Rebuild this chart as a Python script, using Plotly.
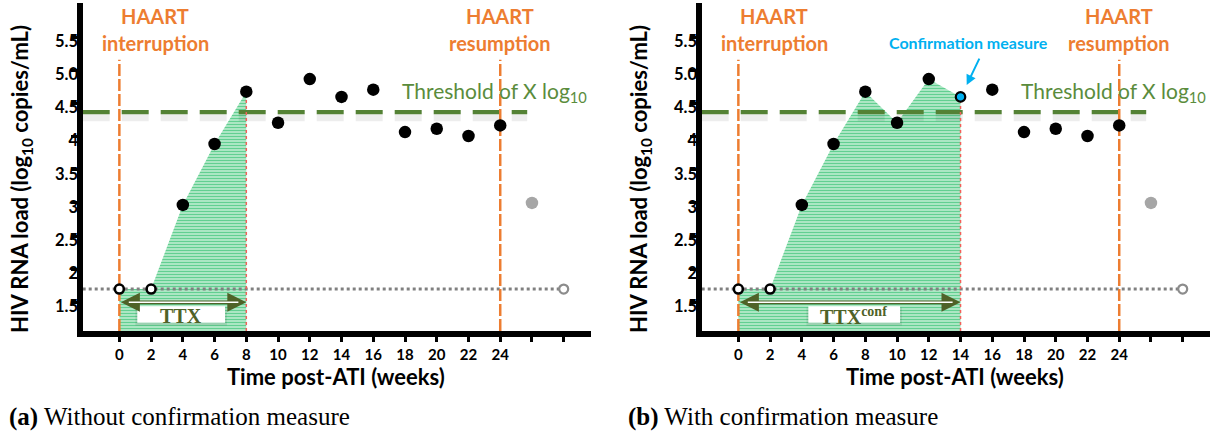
import plotly.graph_objects as go

W, H = 1227, 434

# ---------------- data ----------------
weeks = [0, 2, 4, 6, 8, 10, 12, 14, 16, 18, 20, 22, 24]
viral_load = [1.7, 1.7, 2.97, 3.89, 4.68, 4.21, 4.87, 4.60, 4.71, 4.07, 4.12, 4.01, 4.17]
below_lod = [True, True, False, False, False, False, False, False, False, False, False, False, False]
extra_weeks = [26, 28]
extra_values = [3.0, 1.7]

LOD = 1.7
THRESHOLD = 4.37
HAART_STOP = 0
HAART_RESUME = 24
ttx_end = [8, 14]
confirm_week = [None, 14]

x_tickvals = [0, 2, 4, 6, 8, 10, 12, 14, 16, 18, 20, 22, 24, 26, 28]
x_ticktext = ["0", "2", "4", "6", "8", "10", "12", "14", "16", "18", "20", "22", "24", "", ""]
y_tickvals = [1.5, 2, 2.5, 3, 3.5, 4, 4.5, 5.0, 5.5]
y_ticktext = ["1.5", "2", "2.5", "3", "3.5", "4", "4.5", "5.0", "5.5"]
captions = ["<b>(a)</b> Without confirmation measure", "<b>(b)</b> With confirmation measure"]
ttx_labels = ["TTX", "TTX<sup>conf</sup>"]
ttx_label_x = [3.87, 7.25]
ttx_box_x = [(1.13, 6.66), (4.41, 10.19)]

# ---------------- styles ----------------
ORANGE = "#ED7D31"
TGREEN = "#548235"
OLIVE = "#4F6228"
BLUE = "#00B0F0"
FONT = "Lato"
XR = [-2.31, 29.72]
YR = [1.067, 6.018]
Y_LABEL_SHIFT = 0.06
THRESH_END = 25.7
HAART_TOP = 5.16

panel_off = [0, 619]
ydom = [1 - 331 / H, 1 - 3 / H]

fig = go.Figure()

for i in range(2):
    xa = "x" if i == 0 else "x2"
    ya = "y" if i == 0 else "y2"
    yl = "y3" if i == 0 else "y4"
    end = ttx_end[i]
    k = weeks.index(end)

    # invisible trace so the tick-label axis is drawn
    fig.add_trace(go.Scatter(x=[weeks[0]], y=[viral_load[0]], xaxis=xa, yaxis=yl, mode="markers",
                             marker=dict(opacity=0), hoverinfo="skip", showlegend=False))

    # hatched area up to TTX
    fig.add_trace(go.Scatter(
        x=weeks[:k + 1], y=viral_load[:k + 1], xaxis=xa, yaxis=ya,
        mode="none", fill="tozeroy", fillcolor="#b5e9c8",
        fillpattern=dict(shape="-", fgcolor="#00B050", bgcolor="#c4eed3", size=3, solidity=0.5),
        hoverinfo="skip", showlegend=False))

    # threshold shadow + line
    fig.add_trace(go.Scatter(
        x=[XR[0], THRESH_END], y=[THRESHOLD - 0.085, THRESHOLD - 0.085], xaxis=xa, yaxis=ya,
        mode="lines", line=dict(color="rgba(0,0,0,0.07)", width=7, dash="27px,12px"),
        hoverinfo="skip", showlegend=False))
    fig.add_trace(go.Scatter(
        x=[XR[0], THRESH_END], y=[THRESHOLD, THRESHOLD], xaxis=xa, yaxis=ya,
        mode="lines", line=dict(color=TGREEN, width=4.3, dash="27px,12px"),
        hoverinfo="skip", showlegend=False))

    # detection limit dotted line
    fig.add_trace(go.Scatter(
        x=[XR[0], extra_weeks[1]], y=[LOD, LOD], xaxis=xa, yaxis=ya,
        mode="lines", line=dict(color="#808080", width=3, dash="3px,3px"),
        hoverinfo="skip", showlegend=False))

    # HAART vertical lines
    for xv in (HAART_STOP, HAART_RESUME):
        fig.add_trace(go.Scatter(
            x=[xv, xv], y=[YR[0], HAART_TOP], xaxis=xa, yaxis=ya,
            mode="lines", line=dict(color=ORANGE, width=2.5, dash="12px,3px"),
            hoverinfo="skip", showlegend=False))

    # red dotted line at TTX end
    fig.add_trace(go.Scatter(
        x=[end, end], y=[YR[0], viral_load[k]], xaxis=xa, yaxis=ya,
        mode="lines", line=dict(color="#F2605A", width=1.5, dash="dot"),
        hoverinfo="skip", showlegend=False))

    # points
    fx = [w for w, b in zip(weeks, below_lod) if not b and w != confirm_week[i]]
    fy = [v for w, v, b in zip(weeks, viral_load, below_lod) if not b and w != confirm_week[i]]
    ox = [w for w, b in zip(weeks, below_lod) if b]
    oy = [v for v, b in zip(viral_load, below_lod) if b]
    fig.add_trace(go.Scatter(x=fx, y=fy, xaxis=xa, yaxis=ya, mode="markers",
                             marker=dict(size=12.5, color="black"), showlegend=False))
    fig.add_trace(go.Scatter(x=ox, y=oy, xaxis=xa, yaxis=ya, mode="markers",
                             marker=dict(size=9, color="white", line=dict(color="black", width=2.6)),
                             showlegend=False))
    if confirm_week[i] is not None:
        cw = confirm_week[i]
        cv = viral_load[weeks.index(cw)]
        fig.add_trace(go.Scatter(x=[cw], y=[cv], xaxis=xa, yaxis=ya, mode="markers",
                                 marker=dict(size=9.5, color=BLUE, line=dict(color="black", width=2.2)),
                                 showlegend=False))
    fig.add_trace(go.Scatter(x=[extra_weeks[0]], y=[extra_values[0]], xaxis=xa, yaxis=ya, mode="markers",
                             marker=dict(size=12.5, color="#A6A6A6"), showlegend=False))
    fig.add_trace(go.Scatter(x=[extra_weeks[1]], y=[extra_values[1]], xaxis=xa, yaxis=ya, mode="markers",
                             marker=dict(size=9, color="white", line=dict(color="#8C8C8C", width=2.2)),
                             showlegend=False))

layout = dict(
    width=W, height=H, margin=dict(l=0, r=0, t=0, b=0),
    paper_bgcolor="white", plot_bgcolor="rgba(0,0,0,0)",
    showlegend=False, font=dict(family=FONT, color="black"),
)

shapes = []
annotations = []
for i in range(2):
    off = panel_off[i]
    sfx = "" if i == 0 else "2"
    lab = "3" if i == 0 else "4"
    xdom = [(82.7 + off) / W, (591 + off) / W]
    layout["xaxis" + sfx] = dict(
        domain=xdom, range=XR, anchor="y" + sfx, showline=True, linewidth=6, linecolor="black",
        ticks="outside", ticklen=5, tickwidth=2.5, tickcolor="black",
        tickmode="array", tickvals=x_tickvals, ticktext=x_ticktext,
        tickfont=dict(family=FONT, size=15, weight="bold", color="black"),
        showgrid=False, zeroline=False, fixedrange=True)
    layout["yaxis" + sfx] = dict(
        domain=ydom, range=YR, anchor="x" + sfx, showline=True, linewidth=6, linecolor="black",
        ticks="outside", ticklen=6, tickwidth=2.5, tickcolor="black",
        tickmode="array", tickvals=y_tickvals, showticklabels=False,
        showgrid=False, zeroline=False, fixedrange=True)
    layout["yaxis" + lab] = dict(
        domain=ydom, range=[YR[0] + Y_LABEL_SHIFT, YR[1] + Y_LABEL_SHIFT],
        overlaying="y" + sfx, anchor="free", position=(78 + off) / W, side="left",
        showline=False, ticks="", tickmode="array", tickvals=y_tickvals, ticktext=y_ticktext,
        tickfont=dict(family=FONT, size=16.5, weight="bold", color="black"),
        showgrid=False, zeroline=False, fixedrange=True)

    xr, yr = "x" + sfx, "y" + sfx
    end = ttx_end[i]

    # HAART labels
    for xv, word in ((2.25, "interruption"), (HAART_RESUME, "resumption")):
        annotations.append(dict(x=xv, y=5.822, xref=xr, yref=yr, text="<b>HAART</b>", showarrow=False,
                                xanchor="center", yanchor="middle",
                                font=dict(family=FONT, size=20, color=ORANGE)))
        annotations.append(dict(x=xv, y=5.409, xref=xr, yref=yr, text="<b>" + word + "</b>", showarrow=False,
                                xanchor="center", yanchor="middle",
                                font=dict(family=FONT, size=20, color=ORANGE)))
    # threshold label
    annotations.append(dict(x=17.7, y=4.674, xref=xr, yref=yr, xanchor="left", yanchor="middle",
                            text="Threshold of X log<sub>10</sub>", showarrow=False,
                            font=dict(family=FONT, size=21, color="#5A8C3C")))

    # TTX box + shadow
    bx0, bx1 = ttx_box_x[i]
    shapes.append(dict(type="rect", xref=xr, yref=yr, x0=bx0 - 0.12, x1=bx1 + 0.12, y0=1.15, y1=1.42,
                       fillcolor="rgba(0,0,0,0.09)", line=dict(width=0), layer="above"))
    shapes.append(dict(type="rect", xref=xr, yref=yr, x0=bx0, x1=bx1, y0=1.19, y1=1.44,
                       fillcolor="white", line=dict(width=0), layer="above"))
    # TTX double arrow (hollow look)
    annotations.append(dict(x=end, y=1.5, ax=0, ay=1.5, xref=xr, yref=yr, axref=xr, ayref=yr,
                            text="", showarrow=True, arrowside="end+start", arrowhead=2,
                            arrowsize=1.0, arrowwidth=3.8, arrowcolor=OLIVE))
    annotations.append(dict(x=end - 0.5, y=1.5, ax=0.5, ay=1.5, xref=xr, yref=yr, axref=xr, ayref=yr,
                            text="", showarrow=True, arrowhead=0, arrowwidth=1.4, arrowcolor="white"))
    annotations.append(dict(x=ttx_label_x[i], y=1.30, xref=xr, yref=yr, text="<b>" + ttx_labels[i] + "</b>",
                            showarrow=False, xanchor="center", yanchor="middle",
                            font=dict(family="Liberation Serif", size=20, color=OLIVE)))

    # axis titles and captions
    annotations.append(dict(x=(336 + off) / W, y=1 - 376 / H, xref="paper", yref="paper",
                            xanchor="center", yanchor="middle",
                            text="<b>Time post-ATI (weeks)</b>", showarrow=False,
                            font=dict(family=FONT, size=22, color="black")))
    annotations.append(dict(x=(21 + off) / W, y=1 - 179 / H, xref="paper", yref="paper", textangle=-90,
                            xanchor="center", yanchor="middle",
                            text="<b>HIV RNA load (log<sub>10</sub> copies/mL)</b>", showarrow=False,
                            font=dict(family=FONT, size=22, color="black")))
    annotations.append(dict(x=(7 + off) / W, y=1 - 417 / H, xref="paper", yref="paper",
                            xanchor="left", yanchor="middle",
                            text=captions[i], showarrow=False,
                            font=dict(family="Liberation Serif", size=25, color="black")))

    if confirm_week[i] is not None:
        cw = confirm_week[i]
        cv = viral_load[weeks.index(cw)]
        annotations.append(dict(x=cw + 0.5, y=5.42, xref=xr, yref=yr, text="<b>Confirmation measure</b>",
                                xanchor="center", yanchor="middle",
                                showarrow=False, font=dict(family=FONT, size=16, color=BLUE)))
        annotations.append(dict(x=cw + 0.39, y=cv + 0.18, ax=cw + 1.23, ay=cv + 0.6, xref=xr, yref=yr,
                                axref=xr, ayref=yr, text="", showarrow=True, arrowhead=2,
                                arrowsize=1, arrowwidth=2, arrowcolor=BLUE))

layout["shapes"] = shapes
layout["annotations"] = annotations
fig.update_layout(**layout)

fig.write_html("out.html", config={"displayModeBar": False},
               post_script="document.body.style.margin='0';")
